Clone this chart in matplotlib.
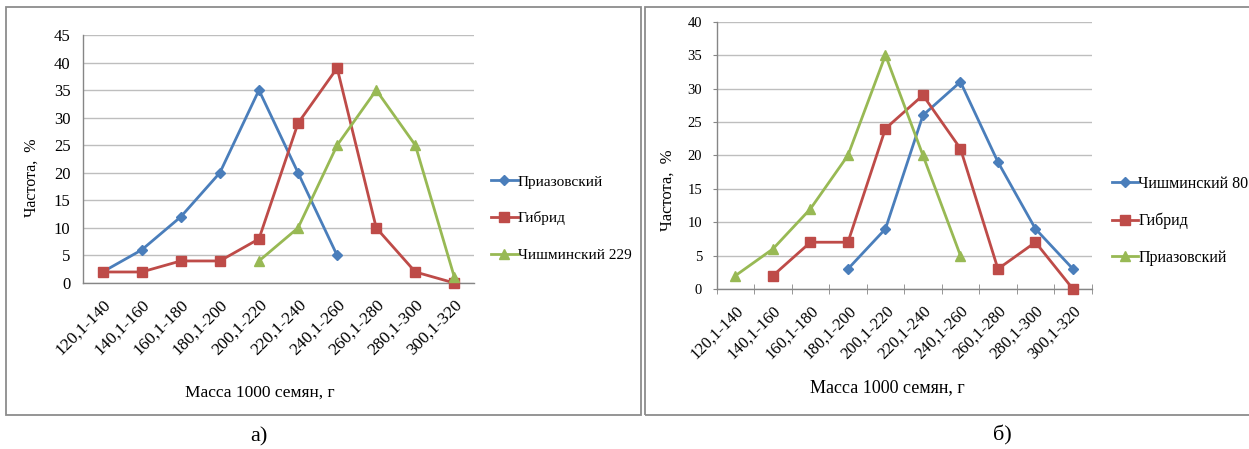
import numpy as np
import matplotlib
matplotlib.use("Agg")
import matplotlib.pyplot as plt
from matplotlib.patches import Rectangle

plt.rcParams['font.family'] = ['Liberation Serif', 'DejaVu Serif']

# Seed mass classes, g
categories = ['120,1-140', '140,1-160', '160,1-180', '180,1-200', '200,1-220',
              '220,1-240', '240,1-260', '260,1-280', '280,1-300', '300,1-320']

# Panel а): frequency, %
a_priazovsky = [2, 6, 12, 20, 35, 20, 5, np.nan, np.nan, np.nan]
a_hybrid = [2, 2, 4, 4, 8, 29, 39, 10, 2, 0]
a_chishminsky229 = [np.nan, np.nan, np.nan, np.nan, 4, 10, 25, 35, 25, 1]

# Panel б): frequency, %
b_chishminsky80 = [np.nan, np.nan, np.nan, 3, 9, 26, 31, 19, 9, 3]
b_hybrid = [np.nan, 2, 7, 7, 24, 29, 21, 3, 7, 0]
b_priazovsky = [2, 6, 12, 20, 35, 20, 5, np.nan, np.nan, np.nan]

BLUE = '#4A7EBB'
RED = '#BE4B48'
GREEN = '#98B954'
GRID = '#BEBEBE'
AXIS = '#868686'

W, H = 1249, 449
fig = plt.figure(figsize=(W / 100, H / 100), dpi=100)


def px_axes(left, top, right, bottom):
    return fig.add_axes([left / W, 1 - bottom / H, (right - left) / W, (bottom - top) / H])


def panel_frame(left, top, right, bottom):
    fig.add_artist(Rectangle((left / W, 1 - bottom / H), (right - left) / W,
                             (bottom - top) / H, transform=fig.transFigure,
                             fill=False, edgecolor='#8C8C8C', linewidth=1.3,
                             clip_on=False))


def draw_panel(ax, series, ymax, ytick_size, xtick_size, ms_scale, with_ticks):
    x = np.arange(len(categories))
    for values, color, marker, ms, label in series:
        ax.plot(x, values, color=color, lw=2.0, marker=marker,
                markersize=ms * ms_scale, markeredgecolor=color,
                markerfacecolor=color, label=label, clip_on=False, zorder=3)
    ax.set_xlim(-0.5, len(categories) - 0.5)
    ax.set_ylim(0, ymax)
    ax.set_yticks(np.arange(0, ymax + 1, 5))
    ax.yaxis.grid(True, color=GRID, lw=1.0)
    ax.set_axisbelow(True)
    for side in ('top', 'right'):
        ax.spines[side].set_visible(False)
    ax.spines['left'].set_color(AXIS)
    ax.spines['bottom'].set_color(AXIS)
    ax.spines['left'].set_linewidth(1.0)
    ax.spines['bottom'].set_linewidth(1.0)
    if with_ticks:
        ax.tick_params(axis='y', labelsize=ytick_size, colors='#000000',
                       length=3, color=AXIS, pad=7.5)
    else:
        ax.tick_params(axis='y', labelsize=ytick_size, colors='#000000',
                       length=0, pad=9)
    ax.set_xticks(x)
    ax.set_xticklabels(categories, rotation=45, ha='right',
                       rotation_mode='anchor', fontsize=xtick_size)
    ax.tick_params(axis='x', which='major', length=0, pad=10)
    if with_ticks:
        ax.set_xticks(np.arange(-0.5, len(categories)), minor=True)
        ax.tick_params(axis='x', which='minor', length=7, direction='inout',
                       color=AXIS)


# Panel а)
panel_frame(6, 7, 641, 415)
ax1 = px_axes(83, 35, 474, 283)
draw_panel(ax1, [(a_priazovsky, BLUE, 'D', 5.5, 'Приазовский'),
                 (a_hybrid, RED, 's', 7.0, 'Гибрид'),
                 (a_chishminsky229, GREEN, '^', 7.5, 'Чишминский 229')],
           45, 12, 12.5, 1.0, False)
fig.text(32 / W, 1 - 178 / H, 'Частота,  %', rotation=90, ha='center',
         va='center', fontsize=11.5)
fig.text(260 / W, 1 - 393 / H, 'Масса 1000 семян, г', ha='center',
         va='center', fontsize=12.5)
leg1 = ax1.legend(loc='upper left', bbox_to_anchor=(491 / W, 1 - 175 / H),
                  bbox_transform=fig.transFigure, frameon=False,
                  handlelength=1.75, handletextpad=0.0, borderpad=0,
                  borderaxespad=0, labelspacing=1.49, fontsize=11)

# Panel б)
panel_frame(645, 7, 1260, 415)
ax2 = px_axes(716.7, 21.7, 1091.7, 289)
draw_panel(ax2, [(b_chishminsky80, BLUE, 'D', 5.5, 'Чишминский 80'),
                 (b_hybrid, RED, 's', 7.0, 'Гибрид'),
                 (b_priazovsky, GREEN, '^', 7.5, 'Приазовский')],
           40, 10.5, 12, 0.93, True)
fig.text(668 / W, 1 - 190 / H, 'Частота,  %', rotation=90, ha='center',
         va='center', fontsize=12)
fig.text(887 / W, 1 - 388 / H, 'Масса 1000 семян, г', ha='center',
         va='center', fontsize=13)
leg2 = ax2.legend(loc='upper left', bbox_to_anchor=(1112 / W, 1 - 176 / H),
                  bbox_transform=fig.transFigure, frameon=False,
                  handlelength=1.65, handletextpad=0.0, borderpad=0,
                  borderaxespad=0, labelspacing=1.29, fontsize=11.5)

# Panel captions
fig.text(259 / W, 1 - 437 / H, 'а)', ha='center', va='center', fontsize=16)
fig.text(1002 / W, 1 - 435 / H, 'б)', ha='center', va='center', fontsize=16)

fig.savefig('out.png', dpi=100, facecolor='white')
